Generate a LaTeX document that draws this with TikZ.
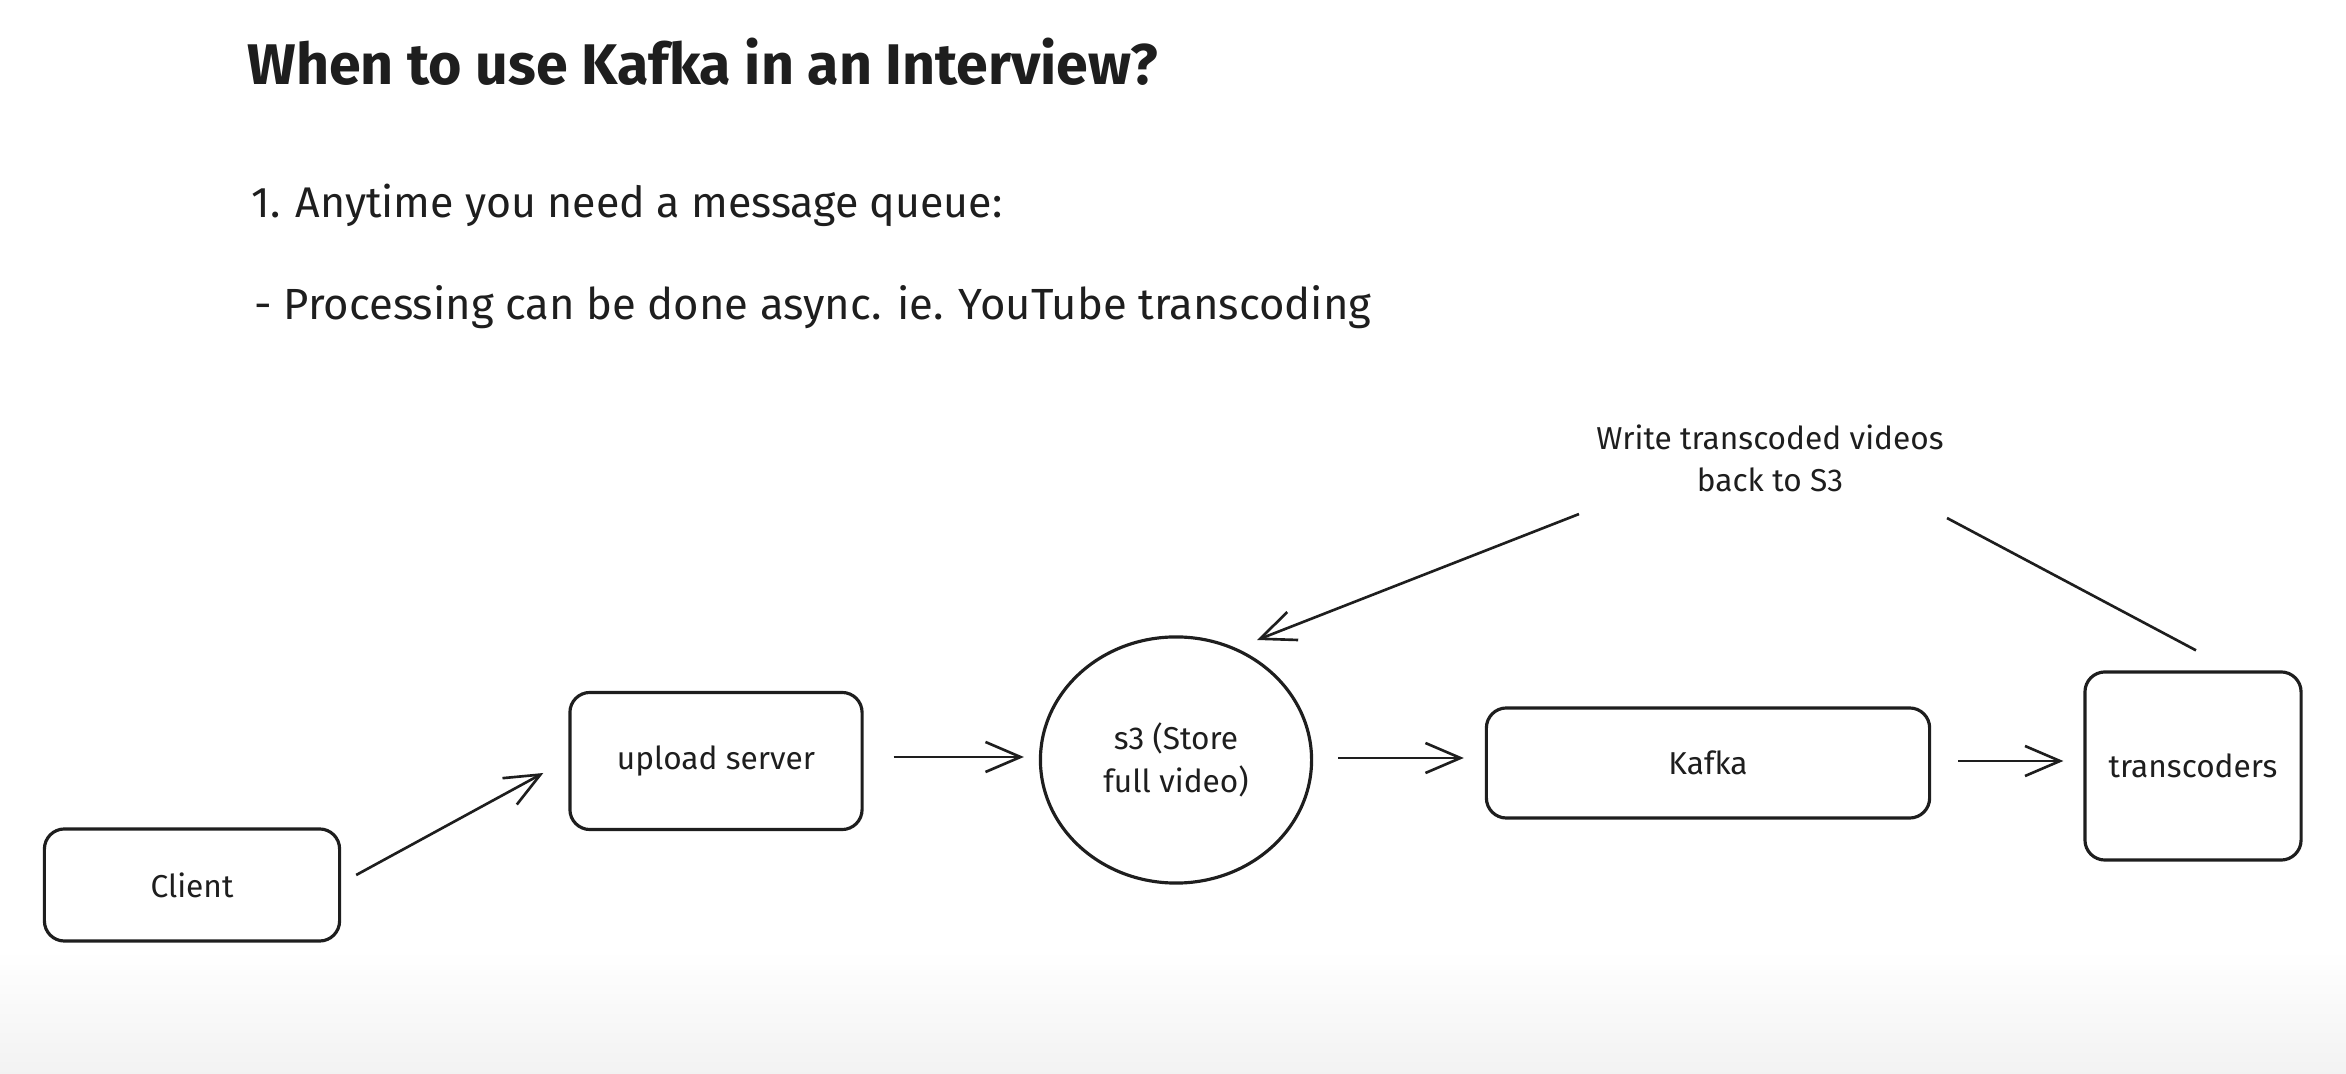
\documentclass[tikz,border=0pt]{standalone}
\usepackage{fontspec}
\setmainfont{Fira Sans}
\usepackage{xcolor}
\usetikzlibrary{arrows.meta,positioning,calc,shapes.geometric}
\definecolor{ink}{HTML}{1E1E1E}

\begin{document}
\begin{tikzpicture}[x=0.01cm,y=-0.01cm,font=\fontsize{9}{12}\selectfont,
  box/.style={draw=ink,line width=0.9pt,rounded corners=2mm,align=center,inner sep=0pt,text=ink},
  store/.style={draw=ink,line width=0.9pt,ellipse,align=center,inner sep=0pt,text=ink},
  arr/.style={draw=ink,line width=0.75pt,-{Straight Barb[length=3.5mm,width=3mm]}},
  txt/.style={anchor=west,text=ink,inner sep=0pt}]
\useasboundingbox (0,0) rectangle (2346,1074);
\shade[top color=white,bottom color=black!5] (0,950) rectangle (2346,1074);
% heading and notes
\node[txt,font=\fontsize{16.3}{19}\selectfont\bfseries] (title) at (247,62) {When to use Kafka in an Interview?};
\node[txt,font=\fontsize{12.2}{14}\selectfont] (item) at (251,205) {1. Anytime you need a message queue:};
\node[txt,font=\fontsize{12.4}{14}\selectfont] (dash) at (254,307) {- Processing can be done async. ie. YouTube transcoding};
% pipeline
\node[box,minimum width=2.95cm,minimum height=1.12cm] (client) at (192,885) {Client};
\node[box,minimum width=2.92cm,minimum height=1.37cm] (upload) at (716,761) {upload server};
\node[store,minimum width=2.71cm,minimum height=2.46cm] (s3) at (1176,760) {s3 (Store\\full video)};
\node[box,minimum width=4.43cm,minimum height=1.10cm] (kafka) at (1708,763) {Kafka};
\node[box,minimum width=2.16cm,minimum height=1.88cm] (trans) at (2193,766) {transcoders};
\node[align=center,text=ink] (back) at (1770,458) {Write transcoded videos\\back to S3};
\draw[arr] ($(client.east)+(15,-10)$) -- ($(upload.west)+(-25,12)$);
\draw[arr] ($(upload.east)+(30,-4)$) -- ($(s3.west)+(-15,-3)$);
\draw[arr] ($(s3.east)+(25,-2)$) -- ($(kafka.west)+(-21,-5)$);
\draw[arr] ($(kafka.east)+(27,-2)$) -- ($(trans.west)+(-20,-5)$);
\draw[arr] ($(back.south west)+(-5,10)$) -- ($(s3)+(81,-120)$);
\draw[draw=ink,line width=0.75pt] ($(trans.north)+(3,-20)$) -- ($(back.south east)+(-9,14)$);
\end{tikzpicture}
\end{document}
